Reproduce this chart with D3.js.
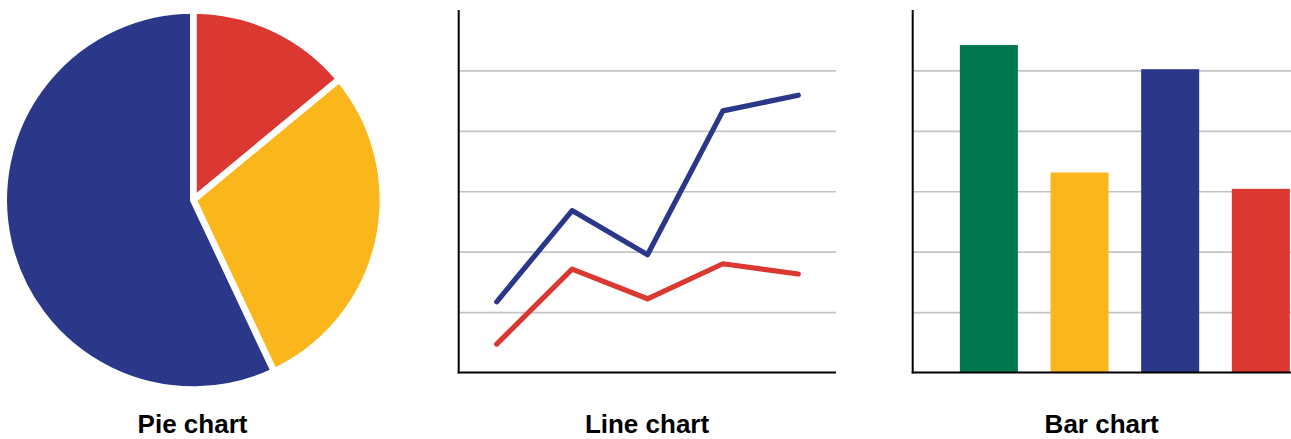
<!DOCTYPE html>
<html>
<head>
<meta charset="utf-8">
<script src="https://cdn.jsdelivr.net/npm/d3@7"></script>
<style>
  html, body { margin: 0; padding: 0; background: #ffffff; overflow: hidden; }
  svg { display: block; }
  text { font-family: "Liberation Sans", Arial, Helvetica, sans-serif; font-weight: bold; fill: #000; }
</style>
</head>
<body>
<script>
// ---- data ----
const pieLabels = ["Red", "Yellow", "Blue"];
const pieValues = [14, 29, 57];
const pieColors = ["#dc3832", "#fbb61b", "#2b388a"];

const lineCategories = ["1", "2", "3", "4", "5"];
const lineBlue = [1.17, 2.68, 1.95, 4.33, 4.59];
const lineRed = [0.47, 1.71, 1.22, 1.80, 1.63];
const lineColors = ["#2b388a", "#dc3832"];

const barCategories = ["Green", "Yellow", "Blue", "Red"];
const barValues = [5.42, 3.31, 5.02, 3.04];
const barColors = ["#00784f", "#fbb61b", "#2b388a", "#dc3832"];

const gridTicks = [1, 2, 3, 4, 5];
const titles = ["Pie chart", "Line chart", "Bar chart"];

// ---- drawing ----
const W = 1291, H = 439;
const svg = d3.select("body").append("svg").attr("width", W).attr("height", H);

const gridColor = "#c4c4c4";
const yTop = 10, yBase = 372.5;

// Pie chart
const pie = d3.pie().sort(null).startAngle(0).endAngle(2 * Math.PI);
const arc = d3.arc().innerRadius(0).outerRadius(189.5);
const pg = svg.append("g").attr("transform", "translate(193.3,200)");
pg.selectAll("path").data(pie(pieValues)).join("path")
  .attr("d", arc)
  .attr("fill", (d, i) => pieColors[i])
  .attr("stroke", "#ffffff")
  .attr("stroke-width", 6.5)
  .attr("stroke-linejoin", "round");

// Line chart
const lx0 = 459, lx1 = 836;
const lxScale = d3.scalePoint().domain(lineCategories).range([lx0, lx1]).padding(0.5);
const yScale = d3.scaleLinear().domain([0, 6]).range([yBase, yTop]);

const lg = svg.append("g");
lg.append("g")
  .attr("transform", `translate(${lx0},0)`)
  .call(d3.axisLeft(yScale).tickValues(gridTicks).tickSize(-(lx1 - lx0)).tickFormat(""))
  .call(g => g.select(".domain").remove())
  .call(g => g.selectAll(".tick line").attr("stroke", gridColor).attr("stroke-width", 1.6));

lg.append("line").attr("x1", lx0 - 0.3).attr("x2", lx0 - 0.3).attr("y1", yTop).attr("y2", yBase + 1)
  .attr("stroke", "#000").attr("stroke-width", 2);
lg.append("line").attr("x1", lx0 - 1.3).attr("x2", lx1).attr("y1", yBase).attr("y2", yBase)
  .attr("stroke", "#000").attr("stroke-width", 2);

const lineGen = d3.line().x((d, i) => lxScale(lineCategories[i])).y(d => yScale(d));
[lineBlue, lineRed].forEach((s, k) => {
  lg.append("path").attr("d", lineGen(s))
    .attr("fill", "none")
    .attr("stroke", lineColors[k])
    .attr("stroke-width", 5.2)
    .attr("stroke-linejoin", "round")
    .attr("stroke-linecap", "round");
});

// Bar chart
const bx0 = 912.7, bx1 = 1291;
const bxScale = d3.scaleBand().domain(barCategories).range([bx0, 1337]).paddingInner(0.36).paddingOuter(0.52);
const bg = svg.append("g");
bg.append("g")
  .attr("transform", `translate(${bx0},0)`)
  .call(d3.axisLeft(yScale).tickValues(gridTicks).tickSize(-(bx1 - bx0)).tickFormat(""))
  .call(g => g.select(".domain").remove())
  .call(g => g.selectAll(".tick line").attr("stroke", gridColor).attr("stroke-width", 1.6));

bg.selectAll("rect").data(barValues).join("rect")
  .attr("x", (d, i) => bxScale(barCategories[i]))
  .attr("width", bxScale.bandwidth())
  .attr("y", d => yScale(d))
  .attr("height", d => yBase - yScale(d))
  .attr("fill", (d, i) => barColors[i]);

bg.append("line").attr("x1", bx0).attr("x2", bx0).attr("y1", yTop).attr("y2", yBase + 1)
  .attr("stroke", "#000").attr("stroke-width", 2);
bg.append("line").attr("x1", bx0 - 1).attr("x2", bx1).attr("y1", yBase).attr("y2", yBase)
  .attr("stroke", "#000").attr("stroke-width", 2);

// Titles
const titleX = [192.5, 647, 1101.7];
svg.selectAll("text.title").data(titles).join("text")
  .attr("class", "title")
  .attr("x", (d, i) => titleX[i])
  .attr("y", 433)
  .attr("text-anchor", "middle")
  .attr("font-size", 26)
  .text(d => d);
</script>
</body>
</html>
